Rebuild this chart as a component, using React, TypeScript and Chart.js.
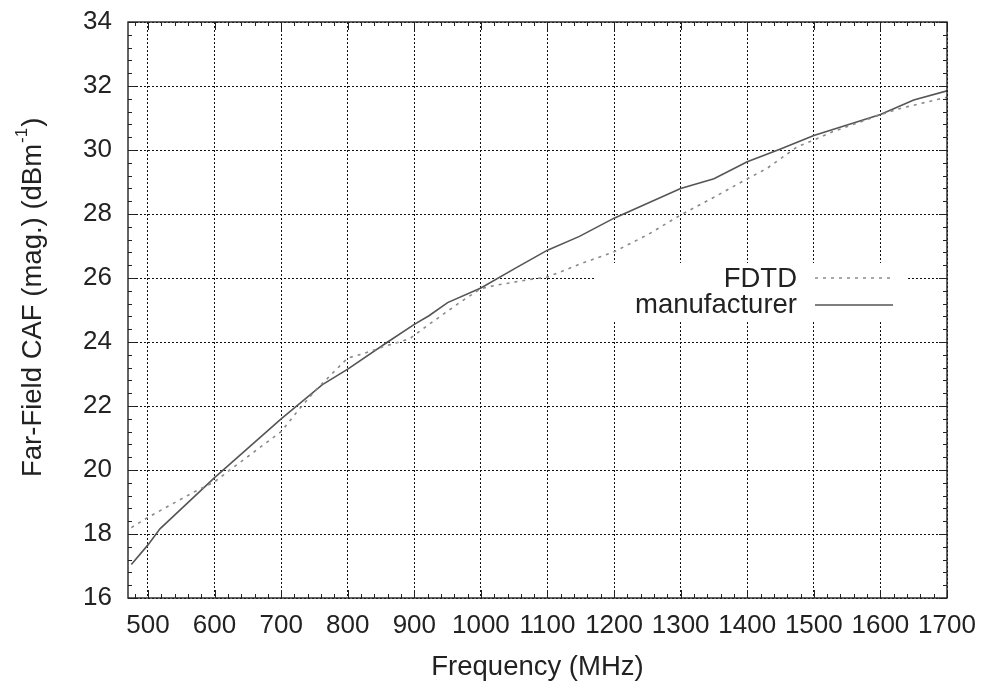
import React, { useEffect, useRef } from 'react';
import { Chart, registerables } from 'chart.js';

Chart.register(...registerables);

// ---- Data ----
const manufacturerFreq = [475, 500, 518, 600, 700, 762, 800, 860, 900, 922, 950, 1000, 1052, 1100, 1148, 1200, 1300, 1350, 1400, 1450, 1500, 1550, 1600, 1650, 1700];
const manufacturerCaf = [17.05, 17.66, 18.16, 19.76, 21.6, 22.67, 23.15, 24.0, 24.55, 24.82, 25.23, 25.69, 26.31, 26.87, 27.3, 27.87, 28.8, 29.1, 29.63, 30.03, 30.45, 30.78, 31.11, 31.56, 31.85];

const fdtdFreq = [475, 500, 568, 600, 623, 700, 725, 753, 800, 823, 853, 893, 922, 968, 1000, 1022, 1072, 1100, 1148, 1200, 1252, 1300, 1348, 1400, 1430, 1475, 1500, 1528, 1600, 1630, 1700];
const fdtdCaf = [18.2, 18.52, 19.3, 19.63, 20.0, 21.2, 21.85, 22.52, 23.5, 23.63, 23.85, 24.1, 24.55, 25.23, 25.67, 25.77, 25.95, 26.03, 26.43, 26.82, 27.37, 27.97, 28.5, 29.1, 29.43, 30.1, 30.31, 30.57, 31.1, 31.3, 31.65];

const xTicks = [500, 600, 700, 800, 900, 1000, 1100, 1200, 1300, 1400, 1500, 1600, 1700];
const yTicks = [16, 18, 20, 22, 24, 26, 28, 30, 32, 34];

const seriesLabels = ['FDTD', 'manufacturer'];
const xTitle = 'Frequency (MHz)';
const yTitleMain = 'Far-Field CAF (mag.) (dBm';
const yTitleSup = '-1';
const yTitleTail = ')';

const FONT = '"Liberation Sans", Arial, Helvetica, sans-serif';
const TEXT = '#222';
const FDTD_COLOR = '#8a8a8a';
const MANU_COLOR = '#555';

export default function App() {
  const ref = useRef<HTMLCanvasElement | null>(null);

  useEffect(() => {
    if (!ref.current) return;

    const decorPlugin = {
      id: 'decor',
      afterDatasetsDraw(chart: any) {
        const { ctx, chartArea: a, scales } = chart;
        const xs = scales.x;
        const ys = scales.y;
        ctx.save();

        // Inward ticks on all four sides
        ctx.strokeStyle = TEXT;
        ctx.lineWidth = 1;
        ctx.setLineDash([]);
        ctx.beginPath();
        for (let i = 0; i <= 61; i++) {
          const f = 480 + i * 20;
          if (f > 1700) break;
          const major = f % 100 === 0;
          const len = major ? 8 : 4;
          const px = Math.round(xs.getPixelForValue(f)) + 0.5;
          ctx.moveTo(px, a.bottom);
          ctx.lineTo(px, a.bottom - len);
          ctx.moveTo(px, a.top);
          ctx.lineTo(px, a.top + len);
        }
        for (let i = 0; i <= 45; i++) {
          const v = 16 + i * 0.4;
          const major = i % 5 === 0;
          const len = major ? 8 : 4;
          const py = Math.round(ys.getPixelForValue(v)) + 0.5;
          ctx.moveTo(a.left, py);
          ctx.lineTo(a.left + len, py);
          ctx.moveTo(a.right, py);
          ctx.lineTo(a.right - len, py);
        }
        ctx.stroke();

        // Frame
        ctx.lineWidth = 1.4;
        ctx.strokeRect(a.left, a.top, a.right - a.left, a.bottom - a.top);

        // Legend (inside, upper right)
        const boxRight = a.right - 39;
        ctx.fillStyle = '#fff';
        ctx.fillRect(595, 263, boxRight - 595, 57);
        ctx.fillStyle = TEXT;
        ctx.font = `27.5px ${FONT}`;
        ctx.textAlign = 'right';
        ctx.textBaseline = 'alphabetic';
        ctx.fillText(seriesLabels[0], 797, 287);
        ctx.fillText(seriesLabels[1], 797, 313);
        ctx.lineWidth = 1.5;
        ctx.strokeStyle = FDTD_COLOR;
        ctx.setLineDash([3, 5]);
        ctx.beginPath();
        ctx.moveTo(815, 278);
        ctx.lineTo(893, 278);
        ctx.stroke();
        ctx.setLineDash([]);
        ctx.strokeStyle = MANU_COLOR;
        ctx.beginPath();
        ctx.moveTo(815, 305);
        ctx.lineTo(893, 305);
        ctx.stroke();

        // X title
        ctx.fillStyle = TEXT;
        ctx.textAlign = 'center';
        ctx.textBaseline = 'alphabetic';
        ctx.font = `27.5px ${FONT}`;
        ctx.fillText(xTitle, (a.left + a.right) / 2, 675);

        // Y title with superscript
        ctx.save();
        ctx.translate(41, 477);
        ctx.rotate(-Math.PI / 2);
        ctx.textAlign = 'left';
        ctx.textBaseline = 'alphabetic';
        ctx.font = `27.5px ${FONT}`;
        const w1 = ctx.measureText(yTitleMain).width;
        ctx.fillText(yTitleMain, 0, 0);
        ctx.font = `17px ${FONT}`;
        const w2 = ctx.measureText(yTitleSup).width;
        ctx.fillText(yTitleSup, w1 + 1, -14);
        ctx.font = `27.5px ${FONT}`;
        ctx.fillText(yTitleTail, w1 + w2 + 2, 0);
        ctx.restore();

        ctx.restore();
      },
    };

    const chart = new Chart(ref.current, {
      type: 'line',
      data: {
        datasets: [
          {
            label: seriesLabels[0],
            data: fdtdFreq.map((f, i) => ({ x: f, y: fdtdCaf[i] })),
            borderColor: FDTD_COLOR,
            borderWidth: 1.6,
            borderDash: [3, 5],
            pointRadius: 0,
            tension: 0,
            fill: false,
          },
          {
            label: seriesLabels[1],
            data: manufacturerFreq.map((f, i) => ({ x: f, y: manufacturerCaf[i] })),
            borderColor: MANU_COLOR,
            borderWidth: 1.6,
            pointRadius: 0,
            tension: 0,
            fill: false,
          },
        ],
      },
      options: {
        responsive: false,
        animation: false,
        devicePixelRatio: 1,
        layout: { padding: { top: 22, right: 39, left: 0, bottom: 0 } },
        plugins: {
          legend: { display: false },
          tooltip: { enabled: false },
          title: { display: false },
        },
        scales: {
          x: {
            type: 'linear',
            min: 470,
            max: 1700,
            afterBuildTicks: (scale: any) => {
              scale.ticks = xTicks.map((v) => ({ value: v }));
            },
            afterFit: (scale: any) => {
              scale.height = 85;
              scale.paddingLeft = 0;
              scale.paddingRight = 0;
            },
            grid: {
              display: true,
              drawTicks: false,
              color: '#111',
              lineWidth: 1,
            },
            border: { display: false, dash: [2, 2] },
            ticks: {
              autoSkip: false,
              maxRotation: 0,
              padding: 12,
              color: TEXT,
              font: { family: FONT, size: 26 },
              callback: (v: any) => String(v),
            },
          },
          y: {
            type: 'linear',
            min: 16,
            max: 34,
            afterBuildTicks: (scale: any) => {
              scale.ticks = yTicks.map((v) => ({ value: v }));
            },
            afterFit: (scale: any) => {
              scale.width = 128;
              scale.paddingTop = 0;
              scale.paddingBottom = 0;
            },
            grid: {
              display: true,
              drawTicks: false,
              color: '#111',
              lineWidth: 1,
            },
            border: { display: false, dash: [2, 2] },
            ticks: {
              padding: 16,
              color: TEXT,
              font: { family: FONT, size: 26 },
              callback: (v: any) => String(v),
            },
          },
        },
      },
      plugins: [decorPlugin],
    });

    return () => chart.destroy();
  }, []);

  return (
    <div style={{ position: 'fixed', left: 0, top: 0, width: 986, height: 683, background: '#fff' }}>
      <canvas ref={ref} width={986} height={683} />
    </div>
  );
}
